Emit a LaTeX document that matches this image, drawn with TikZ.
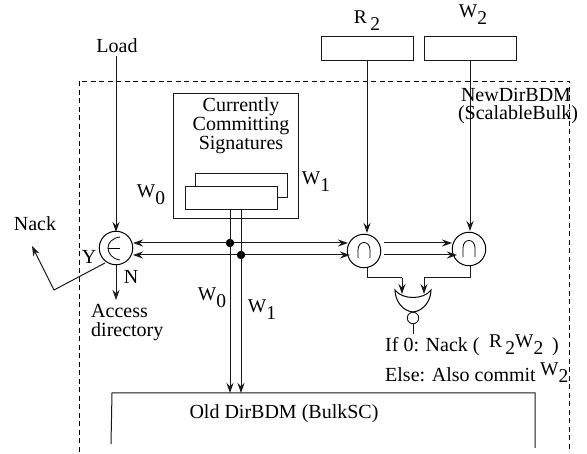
\documentclass[tikz,border=0pt]{standalone}
\usepackage{fontspec}
\setmainfont{Liberation Serif}
\usetikzlibrary{arrows.meta}
\newcommand{\sbs}[1]{\raisebox{-7pt}{#1}}
\begin{document}
\begin{tikzpicture}[x=1pt,y=-1pt,
  wire/.style={draw=black!90,line width=1pt},
  arr/.style={wire,-{Stealth[length=10pt,width=7pt]}},
  txt/.style={inner sep=0pt,font=\fontsize{20}{19}\selectfont,align=center},
  big/.style={inner sep=0pt,font=\fontsize{19.5}{20}\selectfont},
  boxs/.style={draw=black!90,line width=1pt,fill=white,inner sep=0pt},
  op/.style={circle,draw=black,line width=1pt,minimum size=33.5pt,inner sep=0pt,fill=white},
  dot/.style={circle,fill=black,inner sep=0pt,minimum size=8.5pt},
  frame/.style={line width=0.8pt,dash pattern=on 5pt off 3.5pt}]
\useasboundingbox (0,0) rectangle (587,454);
\draw[frame] (79,452) -- (79,81) -- (569,81) -- (569,452);
% signature box
\node[boxs,minimum width=125pt,minimum height=125pt] (sigbox) at (235.5,156.5) {};
\node[txt] (sig) at (241,126) {Currently\\Committing\\Signatures};
\node[boxs,minimum width=92pt,minimum height=24pt] (back) at (241,186) {};
\node[boxs,minimum width=92pt,minimum height=23pt] (front) at (231,198.5) {};
\coordinate (w0top) at (230,210);
\coordinate (w1top) at (241,210);
\node[big] (lw0a) at (151,195) {W\sbs{0}};
\node[big] (lw1a) at (316,182) {W\sbs{1}};
% R2 W2
\node[boxs,minimum width=92pt,minimum height=24pt] (r2) at (367,49) {};
\node[boxs,minimum width=92pt,minimum height=24pt] (w2) at (470,49) {};
\node[big] (lr2) at (367,21) {R\,\sbs{2}};
\node[big] (lw2) at (473,15) {W\sbs{2}};
% ops
\node[op] (mem) at (116,248) {};
\node[op] (and1) at (364,251) {};
\node[op] (and2) at (469,249) {};
\draw[line width=0.8pt] (120,237) .. controls (112,238) and (108,243) .. (108,248)
   .. controls (108,253) and (112,259) .. (120,260);
\draw[line width=0.8pt] (108,248) -- (120,248);
\draw[line width=0.8pt] (358,258) -- (358,250) .. controls (358,240) and (370,240) .. (370,250) -- (370,258);
\draw[line width=0.8pt] (463,257) -- (463,248) .. controls (463,238) and (475,238) .. (475,248) -- (475,257);
% buses
\node[dot] (d0) at (230,243) {};
\node[dot] (d1) at (241,255) {};
\coordinate (mt0) at (133,243);
\coordinate (mt1) at (133,255);
\coordinate (at0) at (348,243);
\coordinate (at1) at (350,255);
\draw[arr] (d0) -- (mt0);
\draw[arr] (d1) -- (mt1);
\draw[arr] (d0) -- (at0);
\draw[arr] (d1) -- (at1);
\coordinate (bs0) at (384,243);
\coordinate (bs1) at (384,255);
\coordinate (bt0) at (452,243);
\coordinate (bt1) at (457,255);
\draw[arr] (bs0) -- (bt0);
\draw[arr] (bs1) -- (bt1);
\coordinate (oldw0) at (230,393);
\coordinate (oldw1) at (241,393);
\draw[arr] (w0top) -- (oldw0);
\draw[arr] (w1top) -- (oldw1);
\node[big] (lw0b) at (212,298) {W\sbs{0}};
\node[big] (lw1b) at (262,310) {W\sbs{1}};
% inputs
\node[txt] (load) at (117,46) {Load};
\coordinate (memin) at (116,232);
\draw[arr] (116,56) -- (memin);
\coordinate (r2tip) at (367,233);
\coordinate (w2tip) at (470,231);
\draw[arr] (r2.south) -- (r2tip);
\draw[arr] (w2.south) -- (w2tip);
% NOR
\coordinate (gl) at (395,290);
\coordinate (gr) at (431,290);
\draw[line width=1pt,fill=white] (gl) .. controls (402,300) and (424,300) .. (gr)
   .. controls (431,300) and (424,311) .. (413,312)
   .. controls (402,311) and (395,300) .. (gl) -- cycle;
\node[circle,draw=black!90,line width=0.9pt,minimum size=11.5pt,inner sep=0pt] (inv) at (413,318) {};
\coordinate (stem) at (413,334);
\draw[wire] (inv.south) -- (stem);
\coordinate (nt0) at (402,294);
\coordinate (nt1) at (424,294);
\draw[wire] (367,268) -- (367,278) -- (402,278);
\draw[arr] (402,278) -- (nt0);
\draw[wire] (470,266) -- (470,278) -- (424,278);
\draw[arr] (424,278) -- (nt1);
% mem outputs
\coordinate (acct) at (116,300);
\draw[arr] (mem.south) -- (acct);
\coordinate (nb) at (54,290);
\coordinate (nt) at (32,246);
\draw[arr] (105,263) -- (nb) -- (nt);
% labels
\node[txt] (nack) at (35,224) {Nack};
\node[txt] (ly) at (89,257) {Y};
\node[txt] (ln) at (131,277) {N};
\node[txt,align=left,anchor=north west] (acc) at (91,304) {Access\\directory};
\node[txt,anchor=west] (nb1) at (385,347) {If 0: Nack (};
\node[big,anchor=west] (nb2) at (489,345) {R\,\sbs{2}W\sbs{2}};
\node[txt,anchor=west] (par) at (552,347) {)};
\node[txt,anchor=west] (el) at (385,375) {Else: Also commit};
\node[big,anchor=west] (elw) at (540,373) {W\sbs{2}};
\node[txt] (nw) at (516,95) {NewDirBDM};
\node[txt] (sc) at (518,115) {(ScalableBulk)};
% old box
\draw[wire] (111,444) -- (112,393) -- (535,393) -- (535,448);
\node[txt] (old) at (284,414) {Old DirBDM (BulkSC)};
\end{tikzpicture}
\end{document}
